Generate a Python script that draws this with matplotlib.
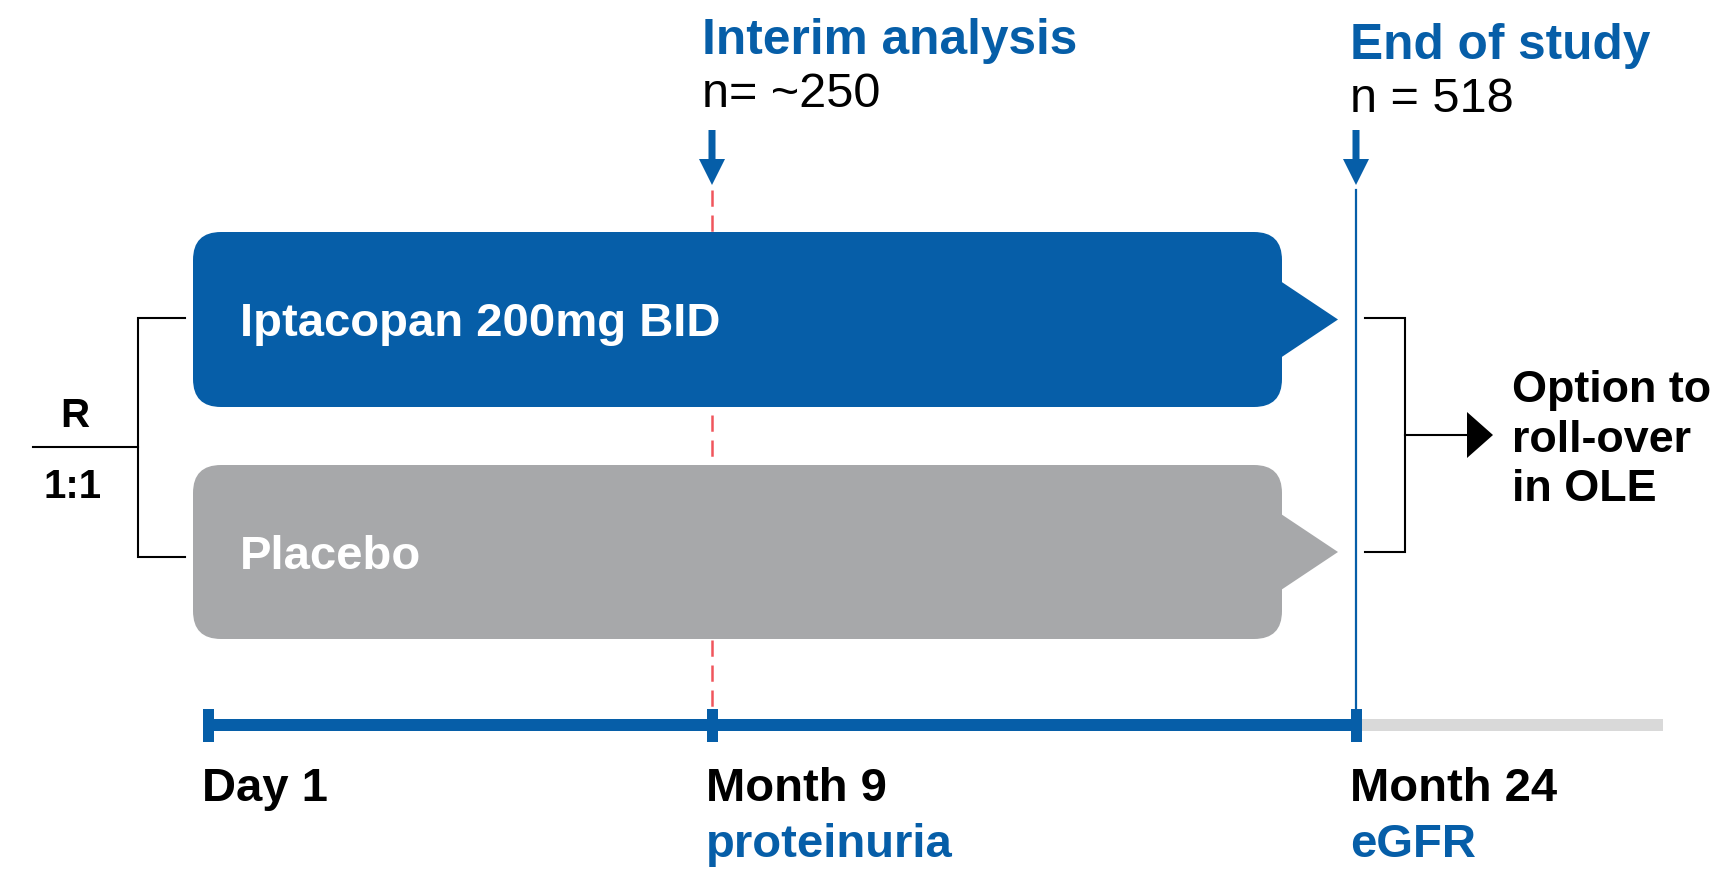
import matplotlib
matplotlib.use("Agg")
import matplotlib.pyplot as plt
from matplotlib.patches import FancyBboxPatch, Polygon, Rectangle

# ---------------- data ----------------
arms = ["Iptacopan 200mg BID", "Placebo"]
milestones = ["Day 1", "Month 9", "Month 24"]
endpoints = ["", "proteinuria", "eGFR"]
analysis_titles = ["Interim analysis", "End of study"]
analysis_n = ["n= ~250", "n = 518"]
rand_label = "R"
rand_ratio = "1:1"
ole_lines = ["Option to", "roll-over", "in OLE"]

# ---------------- styles / layout (pixel space) ----------------
BLUE = "#065EA8"
GREY = "#A7A8AA"
LIGHT = "#D9D9D9"
RED = "#F0555C"
FONT = ["Liberation Sans", "DejaVu Sans"]
arm_colors = [BLUE, GREY]

W, H = 1721, 869
fig = plt.figure(figsize=(W / 100, H / 100), dpi=100)
ax = fig.add_axes([0, 0, 1, 1])
ax.set_xlim(0, W)
ax.set_ylim(H, 0)
ax.axis("off")

milestone_x = [208, 712, 1356]
timeline_y = 725
bar_h = 12
tick_w, tick_h = 11, 33
grey_end = 1663

box_x0, box_x1 = 193, 1282
box_y = [(232, 407), (465, 639)]
tip_x = 1338
tri_half = 40

# arm boxes
for (y0, y1), col, label in zip(box_y, arm_colors, arms):
    ax.add_patch(FancyBboxPatch((box_x0, y0), box_x1 - box_x0, y1 - y0,
                                boxstyle="round,pad=0,rounding_size=28",
                                fc=col, ec="none", zorder=3))
    yc = (y0 + y1) / 2
    ax.add_patch(Polygon([(box_x1 - 4, yc - tri_half), (tip_x, yc), (box_x1 - 4, yc + tri_half)],
                         closed=True, fc=col, ec="none", zorder=3))
    ax.text(box_x0 + 47, yc + 17, label, color="white", fontsize=34, fontweight="bold",
            family=FONT, ha="left", va="baseline", zorder=4)

# timeline
ax.add_patch(Rectangle((milestone_x[-1], timeline_y - bar_h / 2), grey_end - milestone_x[-1], bar_h,
                       fc=LIGHT, ec="none", zorder=2))
ax.add_patch(Rectangle((milestone_x[0], timeline_y - bar_h / 2), milestone_x[-1] - milestone_x[0], bar_h,
                       fc=BLUE, ec="none", zorder=3))
for x in milestone_x:
    ax.add_patch(Rectangle((x - tick_w / 2, timeline_y - tick_h / 2), tick_w, tick_h,
                           fc=BLUE, ec="none", zorder=4))

for x, lab, ep in zip(milestone_x, milestones, endpoints):
    ax.text(x - 6, 801, lab, color="black", fontsize=34, fontweight="bold",
            family=FONT, ha="left", va="baseline")
    if ep:
        ax.text(x - 6, 857, ep, color=BLUE, fontsize=34, fontweight="bold",
                family=FONT, ha="left", va="baseline")

# analysis markers
analysis_x = milestone_x[1:]
title_dy = [0, 5]
for i, (x, title, n) in enumerate(zip(analysis_x, analysis_titles, analysis_n)):
    dy = title_dy[i]
    ax.text(x - 10 + 4 * i, 54 + dy, title, color=BLUE, fontsize=35.7, fontweight="bold",
            family=FONT, ha="left", va="baseline")
    ax.text(x - 10 + 4 * i, 107 + dy, n, color="black", fontsize=35,
            family=FONT, ha="left", va="baseline")
    # down arrow
    ax.add_patch(Polygon([(x - 3.5, 130), (x + 3.5, 130), (x + 3.5, 159), (x + 13, 159),
                          (x, 185), (x - 13, 159), (x - 3.5, 159)],
                         closed=True, fc=BLUE, ec="none", zorder=5))

# interim dashed line (behind boxes)
ln, = ax.plot([analysis_x[0], analysis_x[0]], [190, timeline_y - tick_h / 2],
              color=RED, lw=1.8, zorder=1)
ln.set_dashes((6.5, 3.5))
# end of study solid line
ax.plot([analysis_x[1], analysis_x[1]], [190, timeline_y], color=BLUE, lw=1.6, zorder=2)

# randomisation bracket
bx = 138
top_y, bot_y, mid_y = 318, 557, 447
ax.plot([185, bx, bx, 185], [top_y, top_y, bot_y, bot_y], color="black", lw=1.5,
        solid_joinstyle="miter")
ax.plot([33, bx], [mid_y, mid_y], color="black", lw=1.5)
ax.text(75, 427, rand_label, fontsize=29, fontweight="bold", family=FONT,
        ha="center", va="baseline")
ax.text(73, 498, rand_ratio, fontsize=29, fontweight="bold", family=FONT,
        ha="center", va="baseline")

# right bracket + arrow
rb = 1405
r_top, r_bot = 318, 552
r_mid = (r_top + r_bot) / 2
ax.plot([1365, rb, rb, 1365], [r_top, r_top, r_bot, r_bot], color="black", lw=1.5,
        solid_joinstyle="miter")
ax.plot([rb, 1470], [r_mid, r_mid], color="black", lw=1.5)
ax.add_patch(Polygon([(1467, r_mid - 23), (1493, r_mid), (1467, r_mid + 23)],
                     closed=True, fc="black", ec="none"))
for i, line in enumerate(ole_lines):
    ax.text(1512, 402 + 49.5 * i, line, fontsize=32.3, fontweight="bold", family=FONT,
            ha="left", va="baseline")

fig.savefig("out.png", dpi=100)
